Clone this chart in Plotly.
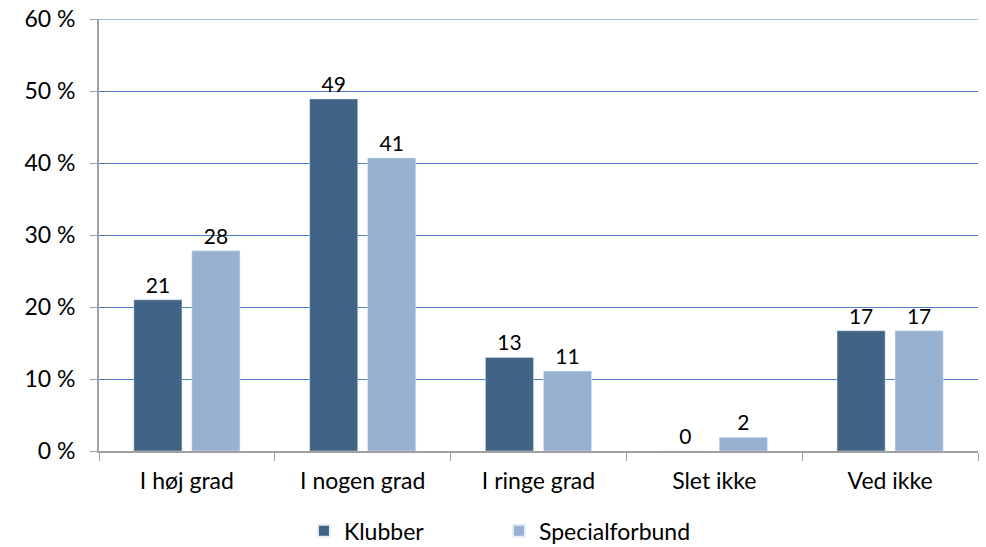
import plotly.graph_objects as go

categories = ["I høj grad", "I nogen grad", "I ringe grad", "Slet ikke", "Ved ikke"]
klubber = [21.0, 48.9, 13.0, 0.0, 16.7]
specialforbund = [27.8, 40.7, 11.1, 1.9, 16.7]
klubber_labels = ["21", "49", "13", "0", "17"]
special_labels = ["28", "41", "11", "2", "17"]
y_ticks = [0, 10, 20, 30, 40, 50, 60]

FONT = "Lato, 'Open Sans', sans-serif"
GRID = "#4A7FC1"

fig = go.Figure()
fig.add_trace(go.Bar(
    name="Klubber", x=categories, y=klubber, text=klubber_labels,
    textposition="outside", marker_color="#416385",
    textfont=dict(size=21, color="#000000", family=FONT), cliponaxis=False,
))
fig.add_trace(go.Bar(
    name="Specialforbund", x=categories, y=specialforbund, text=special_labels,
    textposition="outside", marker_color="#97B1D0",
    textfont=dict(size=21, color="#000000", family=FONT), cliponaxis=False,
))

fig.update_layout(
    width=986, height=547,
    margin=dict(l=99, r=8, t=19, b=96, autoexpand=False),
    paper_bgcolor="white", plot_bgcolor="white",
    barmode="group", bargap=0.34, bargroupgap=0.17,
    font=dict(family=FONT, size=23, color="#000000"),
    showlegend=True,
    legend=dict(orientation="h", x=0.455, xanchor="center", y=-0.185, yanchor="middle",
                font=dict(size=23), entrywidth=150, itemsizing="constant"),
)
fig.add_hline(y=y_ticks[-1], line=dict(color=GRID, width=1), layer="below")
fig.update_yaxes(
    range=[0, 60], tickvals=y_ticks, ticktext=[f"{v} %" for v in y_ticks],
    showgrid=True, gridcolor=GRID, gridwidth=1,
    showline=True, linecolor="#A0A0A0", linewidth=2,
    ticks="outside", ticklen=7, tickcolor="#A0A0A0", tickwidth=1,
    zeroline=False, ticklabelstandoff=10, automargin=False,
)
fig.update_xaxes(
    showline=True, linecolor="#A0A0A0", linewidth=2,
    ticks="outside", ticklen=8, tickcolor="#A0A0A0", tickwidth=1,
    tickson="boundaries", showgrid=False, automargin=False,
    ticklabelstandoff=8,
)

fig.write_html("out.html", config={"displayModeBar": False},
               post_script="document.body.style.margin='0px';")
